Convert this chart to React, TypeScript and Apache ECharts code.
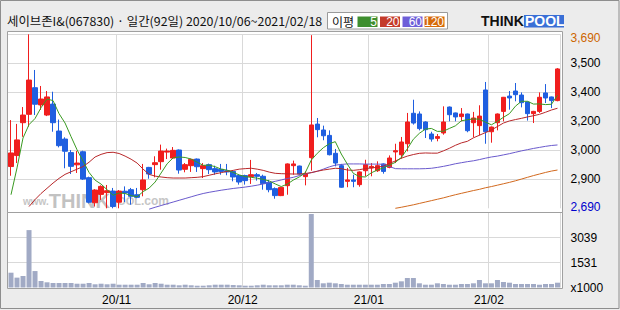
import React, { useEffect, useRef } from "react";
import * as echarts from "echarts";

// Trading days by month
const octDays = ["06","07","08","12","13","14","15","16","19","20","21","22","23","26","27","28","29","30"];
const novDays = ["02","03","04","05","06","09","10","11","12","13","16","17","18","19","20","23","24","25","26","27","30"];
const decDays = ["01","02","03","04","07","08","09","10","11","14","15","16","17","18","21","22","23","24","28","29","30"];
const janDays = ["04","05","06","07","08","11","12","13","14","15","18","19","20","21","22","25","26","27","28","29"];
const febDays = ["01","02","03","04","05","08","09","10","15","16","17","18"];

const categories: string[] = [
  ...octDays.map((d) => `2020/10/${d}`),
  ...novDays.map((d) => `2020/11/${d}`),
  ...decDays.map((d) => `2020/12/${d}`),
  ...janDays.map((d) => `2021/01/${d}`),
  ...febDays.map((d) => `2021/02/${d}`),
];

const openP = [2930,2993,3182,3230,3383,3284,3226,3289,3134,3088,3010,2940,3015,2866,2722,2770,2780,2789,2725,2788,2797,2768,2797,2925,2941,2958,3013,2979,3025,2914,2935,2973,2918,2941,2918,2914,2906,2902,2878,2878,2872,2883,2874,2839,2803,2763,2820,2935,2933,2872,2981,3174,3140,3109,3006,2935,2845,2853,2826,2906,2922,2906,2945,2925,3014,2998,3061,3236,3232,3186,3117,3092,3123,3272,3238,3217,3232,3182,3165,3370,3130,3182,3247,3335,3364,3341,3301,3234,3247,3353,3330,3309];
const highP = [3197,3175,3272,3690,3485,3393,3364,3360,3200,3098,3025,3019,3021,2872,2800,2822,2824,2807,2795,2816,2807,2807,2945,2928,2989,3056,3033,3042,3028,2950,2975,2976,2950,2947,2935,2945,2945,2910,2883,2883,2968,2893,2883,2853,2810,2812,2948,2964,2935,2902,3685,3209,3165,3138,3031,2945,2922,2883,2902,2969,2950,2960,2948,2994,3061,3100,3238,3314,3247,3190,3130,3117,3276,3275,3240,3266,3234,3244,3282,3416,3160,3235,3330,3364,3410,3356,3303,3250,3356,3404,3332,3496];
const lowP = [2877,2950,3101,3159,3226,3255,3220,3130,3040,2920,2887,2893,2853,2718,2700,2738,2690,2690,2690,2726,2711,2748,2759,2860,2868,2912,2973,2975,2889,2897,2899,2899,2864,2887,2883,2883,2880,2845,2826,2826,2830,2849,2797,2782,2745,2760,2768,2883,2883,2822,2906,3098,3081,2994,2931,2808,2811,2811,2814,2874,2874,2899,2889,2920,2950,2975,3017,3171,3138,3094,3073,3075,3113,3190,3190,3190,3127,3098,3109,3061,3067,3138,3190,3257,3305,3270,3194,3180,3238,3295,3266,3305];
const closeP = [3008,3083,3226,3427,3288,3318,3330,3182,3050,3018,2931,2950,2858,2725,2795,2816,2791,2700,2789,2778,2759,2753,2853,2887,2952,3019,3019,3023,2910,2941,2971,2929,2935,2912,2899,2902,2899,2870,2841,2849,2883,2874,2832,2797,2763,2810,2945,2945,2887,2887,3169,3142,3107,2998,2950,2811,2853,2845,2899,2941,2931,2935,2902,2979,3021,3071,3186,3180,3148,3142,3088,3102,3186,3228,3215,3232,3136,3209,3220,3130,3157,3232,3328,3324,3343,3297,3234,3247,3328,3324,3309,3491];

// volume in thousands of shares
const volume = [900,600,700,3490,1000,395,316,273,273,273,273,230,230,273,195,230,195,230,170,170,170,170,273,195,273,230,170,170,134,170,134,109,109,134,170,170,170,150,134,109,109,134,170,134,134,134,170,170,134,109,4470,456,255,292,255,213,170,170,170,170,170,170,213,213,292,376,577,577,255,170,170,255,213,170,170,213,213,255,456,255,255,456,335,292,213,213,213,213,170,213,213,292];

const ma5 = [2768,2922,3094,3171,3206,3268,3318,3309,3234,3180,3102,3026,2961,2896,2852,2829,2797,2765,2778,2775,2763,2756,2786,2806,2841,2893,2946,2980,2985,2982,2973,2955,2937,2938,2929,2915,2909,2896,2882,2872,2868,2863,2856,2847,2830,2815,2829,2852,2870,2895,2967,3006,3038,3061,3073,3002,2944,2891,2872,2870,2894,2910,2922,2938,2954,2982,3032,3087,3121,3145,3149,3132,3133,3149,3164,3193,3199,3204,3202,3185,3170,3190,3213,3234,3277,3305,3305,3289,3290,3286,3288,3340];
const ma20 = [null,null,null,2700,2740,2775,2805,2835,2862,2885,2900,2915,2930,2955,2985,3000,3010,3012,3005,2990,2972,2950,2915,2885,2875,2870,2866,2864,2864,2864,2866,2868,2872,2880,2888,2895,2902,2908,2915,2918,2920,2915,2908,2898,2891,2889,2888,2887,2887,2890,2895,2903,2910,2915,2920,2918,2910,2908,2912,2918,2922,2926,2932,2948,2962,2978,2990,2999,3006,3008,3007,3007,3020,3035,3052,3066,3075,3095,3110,3125,3140,3160,3180,3192,3200,3207,3215,3222,3230,3242,3255,3265];
const ma60 = [null,null,null,null,null,null,null,null,null,null,null,null,null,null,null,null,null,null,null,null,null,null,null,2685,2696,2706,2716,2726,2736,2746,2756,2766,2775,2782,2788,2794,2799,2804,2808,2812,2817,2823,2830,2838,2845,2853,2861,2868,2878,2887,2895,2903,2915,2928,2938,2942,2945,2945,2945,2944,2944,2944,2943,2930,2918,2917,2917,2917,2917,2918,2920,2925,2931,2938,2946,2952,2958,2963,2970,2978,2985,2990,2997,3004,3012,3020,3027,3034,3040,3046,3051,3054];
const ma120 = [null,null,null,null,null,null,null,null,null,null,null,null,null,null,null,null,null,null,null,null,null,null,null,null,null,null,null,null,null,null,null,null,null,null,null,null,null,null,null,null,null,null,null,null,null,null,null,null,null,null,null,null,null,null,null,null,null,null,null,null,null,null,null,null,2690,2696,2703,2710,2718,2726,2734,2742,2750,2759,2768,2776,2784,2792,2799,2808,2815,2823,2831,2839,2848,2858,2868,2878,2887,2896,2904,2910];

const priceTickLabels = ["2,690","2,900","3,000","3,200","3,400","3,500","3,690"];
const volTickLabels = ["x1000","1531","3039",""];
const PRICE_MIN = 2690;
const PRICE_MAX = 3690;
const PRICE_STEP = (PRICE_MAX - PRICE_MIN) / 6;
const VOL_MAX = 4560;
const VOL_STEP = 1520;

const maLegend = [
  { label: "5", color: "#3E8E2E" },
  { label: "20", color: "#C43B2A" },
  { label: "60", color: "#6E5FD8" },
  { label: "120", color: "#D66A0A" },
];

const C_UP = "#F01E1E";
const C_DOWN = "#1F5FE0";
const GRID_LINE = "#D9D9D9";
const FONT = '"Liberation Sans", Arial, sans-serif';
const KFONT = '"Noto Sans CJK KR", sans-serif';

export default function App() {
  const ref = useRef<HTMLDivElement>(null);

  useEffect(() => {
    if (!ref.current) return;
    const chart = echarts.init(ref.current, null, { renderer: "svg" });

    const monthStart = new Set<number>();
    categories.forEach((c, i) => {
      if (i > 0 && c.slice(5, 7) !== categories[i - 1].slice(5, 7)) monthStart.add(i);
    });
    const isMonthStart = (i: number) => monthStart.has(i);

    const legendEls: any[] = [];
    const boxX = [357.5, 380, 402.5, 424.5];
    maLegend.forEach((m, k) => {
      legendEls.push({
        type: "rect",
        shape: { x: boxX[k], y: 16.5, width: 20, height: 10.5 },
        style: { fill: m.color },
        z: 20,
        silent: true,
      });
      legendEls.push({
        type: "text",
        x: boxX[k] + 19.5,
        y: 22,
        style: {
          text: m.label,
          font: `12px ${FONT}`,
          fill: "#fff",
          textAlign: "right",
          textVerticalAlign: "middle",
          align: "right",
          verticalAlign: "middle",
        },
        z: 21,
        silent: true,
      });
    });

    const option: any = {
      animation: false,
      grid: [
        { left: 8, top: 34.3, width: 552.5, height: 174 },
        { left: 8, top: 212.5, width: 552.5, height: 75 },
      ],
      xAxis: [
        {
          type: "category",
          gridIndex: 0,
          data: categories,
          boundaryGap: true,
          axisLine: { show: false },
          axisTick: { show: false },
          axisLabel: { show: false },
          splitLine: { show: true, interval: isMonthStart, lineStyle: { color: GRID_LINE, width: 1 } },
        },
        {
          type: "category",
          gridIndex: 1,
          data: categories,
          boundaryGap: true,
          axisLine: { show: false },
          axisTick: { show: false },
          axisLabel: {
            show: true,
            interval: isMonthStart,
            formatter: (v: string) => `${v.slice(2, 4)}/${v.slice(5, 7)}`,
            color: "#000",
            fontSize: 12,
            fontFamily: FONT,
            margin: 6,
            padding: [0, 5, 0, 0],
          },
          splitLine: { show: true, interval: isMonthStart, lineStyle: { color: GRID_LINE, width: 1 } },
        },
      ],
      yAxis: [
        {
          type: "value",
          gridIndex: 0,
          position: "right",
          min: PRICE_MIN,
          max: PRICE_MAX,
          interval: PRICE_STEP,
          axisLine: { show: false },
          axisTick: { show: false },
          splitLine: { show: true, showMinLine: false, showMaxLine: false, lineStyle: { color: GRID_LINE, width: 1 } },
          axisLabel: {
            margin: 10,
            color: "#000",
            fontSize: 12,
            fontFamily: FONT,
            formatter: (v: number) => {
              const k = Math.round((v - PRICE_MIN) / PRICE_STEP);
              const t = priceTickLabels[k] ?? "";
              if (k === 6) return `{top|${t}}`;
              if (k === 0) return `{bot|${t}}`;
              return t;
            },
            rich: {
              top: { color: "#CC6600", fontSize: 12, fontFamily: FONT, padding: [8, 0, 0, 0] },
              bot: { color: "#0000CC", fontSize: 12, fontFamily: FONT, padding: [0, 0, 3, 0] },
            },
          },
        },
        {
          type: "value",
          gridIndex: 1,
          position: "right",
          min: 0,
          max: VOL_MAX,
          interval: VOL_STEP,
          axisLine: { show: false },
          axisTick: { show: false },
          splitLine: { show: true, showMinLine: false, showMaxLine: false, lineStyle: { color: GRID_LINE, width: 1 } },
          axisLabel: {
            margin: 10,
            color: "#000",
            fontSize: 12,
            fontFamily: FONT,
            formatter: (v: number) => volTickLabels[Math.round(v / VOL_STEP)] ?? "",
          },
        },
      ],
      series: [
        {
          type: "candlestick",
          xAxisIndex: 0,
          yAxisIndex: 0,
          data: categories.map((_, i) => [openP[i], closeP[i], lowP[i], highP[i]]),
          barWidth: 5,
          clip: false,
          z: 2,
          itemStyle: {
            color: C_UP,
            color0: C_DOWN,
            borderColor: C_UP,
            borderColor0: C_DOWN,
            borderWidth: 1,
          },
        },
        { type: "line", xAxisIndex: 0, yAxisIndex: 0, data: ma120, symbol: "none", clip: false, z: 3, lineStyle: { width: 1, color: "#D2691E" } },
        { type: "line", xAxisIndex: 0, yAxisIndex: 0, data: ma60, symbol: "none", clip: false, z: 3, lineStyle: { width: 1, color: "#6A5ACD" } },
        { type: "line", xAxisIndex: 0, yAxisIndex: 0, data: ma20, symbol: "none", clip: false, z: 3, lineStyle: { width: 1, color: "#B8282A" } },
        { type: "line", xAxisIndex: 0, yAxisIndex: 0, data: ma5, symbol: "none", clip: false, z: 3, lineStyle: { width: 1, color: "#3A9A22" } },
        {
          type: "bar",
          xAxisIndex: 1,
          yAxisIndex: 1,
          data: volume,
          barWidth: 5,
          itemStyle: { color: "#A1AAC5" },
        },
      ],
      graphic: [
        // pane backgrounds
        { type: "rect", shape: { x: 7.5, y: 31.5, width: 555, height: 181 }, style: { fill: "#fff" }, z: -10, silent: true },
        { type: "rect", shape: { x: 7.5, y: 212.5, width: 555, height: 76 }, style: { fill: "#fff" }, z: -10, silent: true },
        // watermark (single rich text)
        {
          type: "text",
          x: 23,
          y: 211,
          style: {
            text: "{a|www.}{b|THINK}{c|POOL}{d|.com}",
            textVerticalAlign: "bottom",
            verticalAlign: "bottom",
            rich: {
              a: { font: `bold 10px ${FONT}`, fill: "#C6C6C6", color: "#C6C6C6" },
              b: { font: `bold 20px ${FONT}`, fill: "#C2C2C2", color: "#C2C2C2" },
              c: { font: `bold 11px ${FONT}`, fill: "#C6C6C6", color: "#C6C6C6" },
              d: { font: `bold 12px ${FONT}`, fill: "#C6C6C6", color: "#C6C6C6" },
            },
          },
          z: -9,
          silent: true,
        },
        // pane frames
        { type: "rect", shape: { x: 7.5, y: 31.5, width: 555, height: 181 }, style: { fill: "none", stroke: "#A0A0A0", lineWidth: 1 }, z: 30, silent: true },
        { type: "rect", shape: { x: 7.5, y: 212.5, width: 555, height: 76 }, style: { fill: "none", stroke: "#A0A0A0", lineWidth: 1 }, z: 30, silent: true },
        // outer frame
        { type: "rect", shape: { x: 0.5, y: 0.5, width: 618.5, height: 308 }, style: { fill: "none", stroke: "#8E8E8E", lineWidth: 1 }, z: 30, silent: true },
        // header title
        {
          type: "text",
          x: 7,
          y: 21,
          style: {
            text: "세이브존I&(067830) · 일간(92일) 2020/10/06~2021/02/18",
            font: `12.4px ${KFONT}`,
            fill: "#111",
            textVerticalAlign: "middle",
            verticalAlign: "middle",
          },
          z: 20,
          silent: true,
        },
        // MA legend box
        { type: "rect", shape: { x: 327.5, y: 12.5, width: 120, height: 16.5 }, style: { fill: "#fff", stroke: "#9A9A9A", lineWidth: 1 }, z: 19, silent: true },
        {
          type: "text",
          x: 332,
          y: 21,
          style: { text: "이평", font: `12px ${KFONT}`, fill: "#111", textVerticalAlign: "middle", verticalAlign: "middle" },
          z: 20,
          silent: true,
        },
        ...legendEls,
        // THINKPOOL logo
        {
          type: "text",
          x: 481,
          y: 27.5,
          style: { text: "THINK", font: `bold 14px ${FONT}`, fill: "#111", textVerticalAlign: "bottom", verticalAlign: "bottom" },
          z: 20,
          silent: true,
        },
        { type: "rect", shape: { x: 524, y: 15, width: 40, height: 12.5 }, style: { fill: "#3A6FD6" }, z: 19, silent: true },
        {
          type: "text",
          x: 525,
          y: 27.5,
          style: { text: "POOL", font: `bold 14px ${FONT}`, fill: "#fff", textVerticalAlign: "bottom", verticalAlign: "bottom" },
          z: 20,
          silent: true,
        },
      ],
    };

    chart.setOption(option);
    return () => chart.dispose();
  }, []);

  return (
    <div
      ref={ref}
      style={{ position: "absolute", left: 0, top: 0, width: 620, height: 310, background: "#ECECEC" }}
    />
  );
}
